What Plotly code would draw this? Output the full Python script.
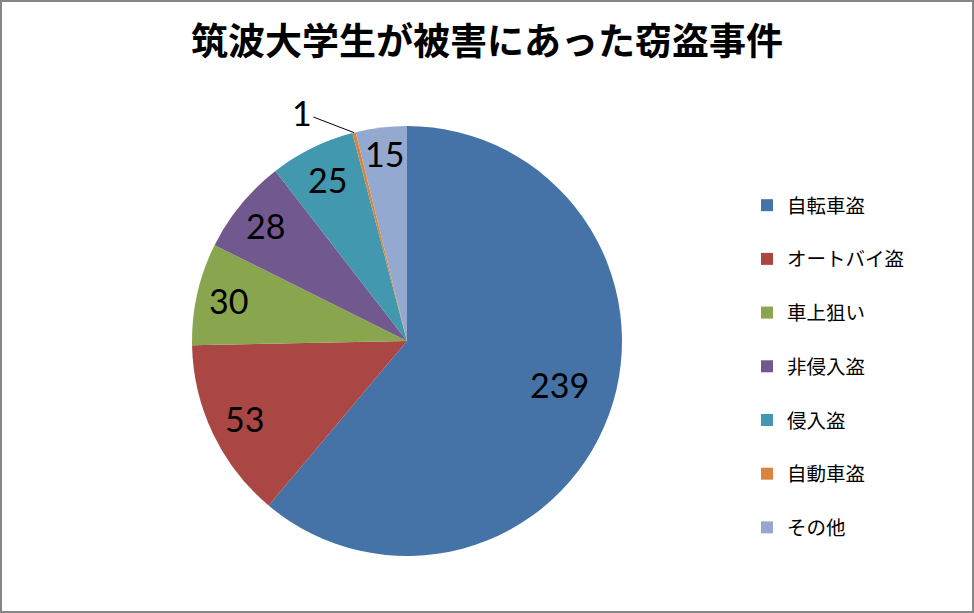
import numpy as np
import plotly.graph_objects as go

# ---- data ----
title = "筑波大学生が被害にあった窃盗事件"
categories = ["自転車盗", "オートバイ盗", "車上狙い", "非侵入盗", "侵入盗", "自動車盗", "その他"]
values = [239, 53, 30, 28, 25, 1, 15]

# ---- style ----
colors = ["#4572A7", "#AA4643", "#89A54E", "#71588F", "#4198AF", "#DB843D", "#93A9CF"]
label_radius = [0.74, 0.84, 0.85, 0.85, 0.84, None, 0.88]  # fraction of radius (None -> outside with leader)
label_turn = [-4, 0, 0, 0, 0, 0, 0]  # small angular nudge in degrees

W, H = 974, 613
cx_px, cy_px, R = 407, 341, 215
dom_x = [(cx_px - R) / W, (cx_px + R) / W]
dom_y = [1 - (cy_px + R) / H, 1 - (cy_px - R) / H]

fig = go.Figure(go.Pie(
    labels=[c + "<br>&nbsp;" for c in categories],
    values=values,
    sort=False,
    direction="clockwise",
    rotation=0,
    marker=dict(colors=colors, line=dict(width=0)),
    textinfo="none",
    hoverinfo="value+percent",
    domain=dict(x=dom_x, y=dom_y),
))

# value labels positioned from the data (slice mid-angles)
vals = np.array(values, dtype=float)
total = vals.sum()
cum = np.cumsum(vals)
mid = 2 * np.pi * (cum - vals / 2) / total
annotations = []
for v, th, f, t in zip(values, mid, label_radius, label_turn):
    th = th + np.deg2rad(t)
    if f is not None:
        px = cx_px + f * R * np.sin(th)
        py = cy_px - f * R * np.cos(th)
        annotations.append(dict(
            x=px / W, y=1 - py / H, xref="paper", yref="paper",
            text=str(v), showarrow=False,
            font=dict(family="Lato", size=34, color="#000000"),
            xanchor="center", yanchor="middle",
        ))
    else:
        px = cx_px + R * np.sin(th)
        py = cy_px - R * np.cos(th)
        annotations.append(dict(
            x=px / W, y=1 - py / H, xref="paper", yref="paper",
            text=str(v), showarrow=True, arrowhead=0, arrowwidth=1,
            arrowcolor="#000000", ax=-52, ay=-20,
            font=dict(family="Lato", size=34, color="#000000"),
        ))

fig.update_layout(
    width=W, height=H,
    margin=dict(l=0, r=0, t=0, b=0),
    paper_bgcolor="#FFFFFF",
    title=dict(
        text="<b>" + title + "</b>",
        x=0.5, xanchor="center", xref="paper",
        y=1 - 42 / H, yanchor="middle", yref="container",
        font=dict(family="Noto Sans CJK JP", size=37, color="#000000"),
    ),
    legend=dict(
        x=(767 - 20) / W, xanchor="left",
        y=1 - 186 / H, yanchor="top",
        font=dict(family="Noto Sans CJK JP", size=19.5, color="#000000"),
        valign="top",
        bgcolor="rgba(0,0,0,0)",
    ),
    annotations=annotations,
    shapes=[dict(type="rect", xref="paper", yref="paper", x0=0, x1=1, y0=0, y1=1,
                 line=dict(color="#868686", width=4), fillcolor="rgba(0,0,0,0)")],
)

fig.write_html(
    "out.html",
    config={"displayModeBar": False},
    post_script="document.body.style.margin='0';document.body.style.overflow='hidden';",
)
